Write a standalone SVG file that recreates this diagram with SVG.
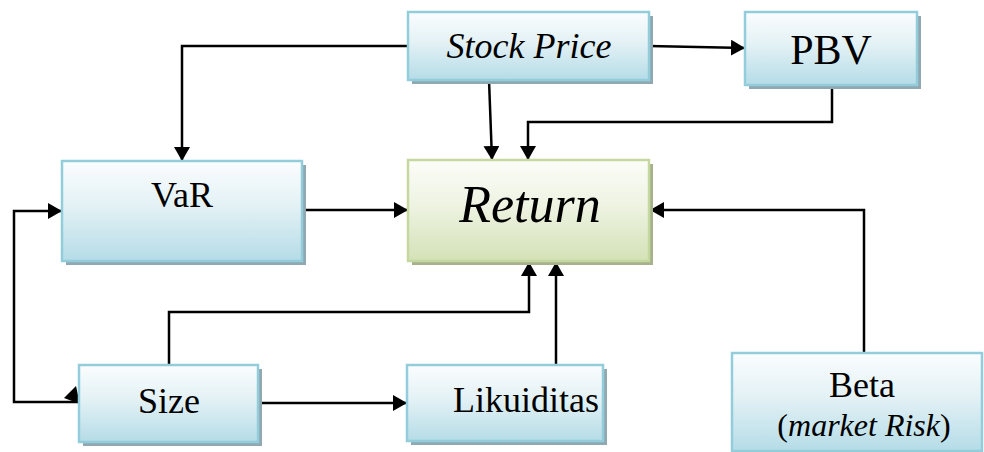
<svg xmlns="http://www.w3.org/2000/svg" width="984" height="452" viewBox="0 0 984 452">
  <defs>
    <linearGradient id="blueFill" x1="0" y1="0" x2="0" y2="1">
      <stop offset="0" stop-color="#fbfdfe"/>
      <stop offset="0.45" stop-color="#e3f1f5"/>
      <stop offset="1" stop-color="#b5dce7"/>
    </linearGradient>
    <linearGradient id="greenFill" x1="0" y1="0" x2="0" y2="1">
      <stop offset="0" stop-color="#fcfdf9"/>
      <stop offset="0.45" stop-color="#eef3e2"/>
      <stop offset="1" stop-color="#d4e2b7"/>
    </linearGradient>
    <marker id="arrow" markerUnits="userSpaceOnUse" markerWidth="15" markerHeight="16" refX="14" refY="8" orient="auto">
      <path d="M0,0 L14,8 L0,16 z" fill="#000"/>
    </marker>
  </defs>
  <style>
    .shadow-blue { fill: #8fa8b2; }
    .shadow-green { fill: #a5b28c; }
    .box-blue { fill: url(#blueFill); stroke: #93cddc; stroke-width: 2.5; }
    .box-green { fill: url(#greenFill); stroke: #c5d89f; stroke-width: 2.5; }
    text { font-family: "Liberation Serif", "Times New Roman", serif; fill: #000; text-anchor: middle; }
    .it { font-style: italic; }
    .wire-arrow { fill: none; stroke: #000; stroke-width: 2.5; marker-end: url(#arrow); }
  </style>

  <rect width="984" height="452" fill="#ffffff"/>

  <g id="connectors">
    <!-- Stock Price to VaR -->
    <path class="wire-arrow" d="M408,46 H182 V161"/>
    <!-- Stock Price to PBV -->
    <path class="wire-arrow" d="M649,46 L745,48"/>
    <!-- Stock Price to Return -->
    <path class="wire-arrow" d="M489,80 L492,160"/>
    <!-- PBV to Return -->
    <path class="wire-arrow" d="M832,85 V122 H528 V160"/>
    <!-- VaR to Return -->
    <path class="wire-arrow" d="M302,210 H408"/>
    <!-- Beta to Return -->
    <path class="wire-arrow" d="M864,353 V210 H650"/>
    <!-- Size to Return -->
    <path class="wire-arrow" d="M169,365 V312 H529 V262"/>
    <!-- Likuiditas to Return -->
    <path class="wire-arrow" d="M556,365 V262"/>
    <!-- Size to Likuiditas -->
    <path class="wire-arrow" d="M258,403 H407"/>
    <!-- VaR and Size, both directions -->
    <path class="wire-arrow" d="M79,402 H14 V211 H62"/>
    <polygon points="80,404 64,398 76,386" fill="#000"/>
  </g>

  <g id="node-stock-price">
    <rect class="shadow-blue" x="412" y="16" width="241" height="68"/>
    <rect class="box-blue" x="408" y="12" width="241" height="68"/>
    <text class="it" x="529" y="58" font-size="36">Stock Price</text>
  </g>

  <g id="node-pbv">
    <rect class="shadow-blue" x="749" y="16" width="172" height="73"/>
    <rect class="box-blue" x="745" y="12" width="172" height="73"/>
    <text x="831" y="64" font-size="42">PBV</text>
  </g>

  <g id="node-var">
    <rect class="shadow-blue" x="66" y="165" width="240" height="100"/>
    <rect class="box-blue" x="62" y="161" width="240" height="100"/>
    <text x="182" y="207" font-size="36">VaR</text>
  </g>

  <g id="node-return">
    <rect class="shadow-green" x="412" y="164" width="241" height="101"/>
    <rect class="box-green" x="408" y="160" width="241" height="101"/>
    <text class="it" x="530" y="222" font-size="52">Return</text>
  </g>

  <g id="node-size">
    <rect class="shadow-blue" x="83" y="369" width="179" height="77"/>
    <rect class="box-blue" x="79" y="365" width="179" height="77"/>
    <text x="169" y="413" font-size="36">Size</text>
  </g>

  <g id="node-likuiditas">
    <rect class="shadow-blue" x="411" y="369" width="196" height="76"/>
    <rect class="box-blue" x="407" y="365" width="196" height="76"/>
    <text x="526" y="412" font-size="36">Likuiditas</text>
  </g>

  <g id="node-beta">
    <rect class="box-blue" x="732" y="353" width="250" height="98"/>
    <text x="862" y="397" font-size="36">Beta</text>
    <text x="864" y="436" font-size="32">(<tspan class="it">market Risk</tspan>)</text>
  </g>
</svg>
